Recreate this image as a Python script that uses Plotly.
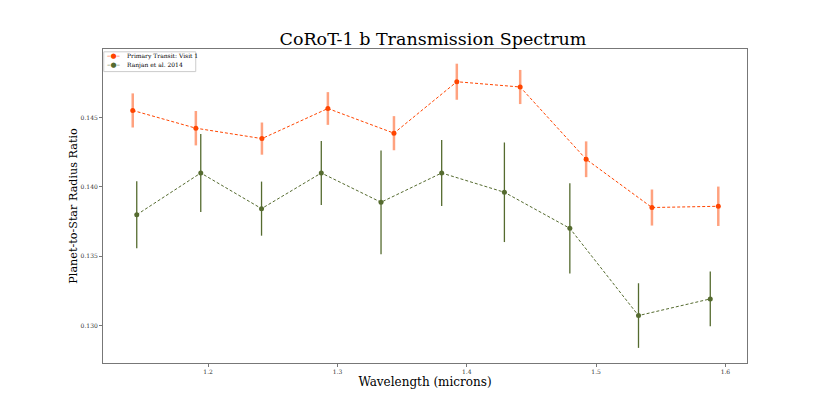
import plotly.graph_objects as go

# Primary Transit: Visit 1
wl_visit1 = [1.1417, 1.1905, 1.2416, 1.2926, 1.3437, 1.3923, 1.4413, 1.4923, 1.5432, 1.5945]
rp_visit1 = [0.14551, 0.14423, 0.14348, 0.14565, 0.14387, 0.14758, 0.14720, 0.14199, 0.13851, 0.13860]
err_visit1 = [0.00123, 0.00124, 0.00116, 0.00118, 0.00123, 0.00130, 0.00123, 0.00129, 0.00130, 0.00142]

# Ranjan et al. 2014
wl_ranjan = [1.1448, 1.1943, 1.2413, 1.2875, 1.3337, 1.3806, 1.4291, 1.4797, 1.5328, 1.5883]
rp_ranjan = [0.13799, 0.14100, 0.13843, 0.14100, 0.13889, 0.14100, 0.13961, 0.13701, 0.13072, 0.13192]
err_ranjan = [0.00241, 0.00282, 0.00195, 0.00231, 0.00374, 0.00238, 0.00359, 0.00325, 0.00233, 0.00197]

series_names = ["Primary Transit: Visit 1", "Ranjan et al. 2014"]

x_ticks = [1.2, 1.3, 1.4, 1.5, 1.6]
y_ticks = [0.130, 0.135, 0.140, 0.145]

SERIF = "DejaVu Serif"
ORANGE = "#FF4500"
OLIVE = "#556B2F"

fig = go.Figure()
fig.add_trace(go.Scatter(
    x=wl_visit1, y=rp_visit1, name=series_names[0],
    mode="lines+markers",
    line=dict(color=ORANGE, width=1, dash="3px,2px"),
    marker=dict(color=ORANGE, size=5, symbol="circle"),
    error_y=dict(type="data", array=err_visit1, visible=True,
                 color="rgba(255,69,0,0.5)", thickness=2.5, width=0),
))
fig.add_trace(go.Scatter(
    x=wl_ranjan, y=rp_ranjan, name=series_names[1],
    mode="lines+markers",
    line=dict(color=OLIVE, width=1, dash="3px,2px"),
    marker=dict(color=OLIVE, size=5, symbol="circle"),
    error_y=dict(type="data", array=err_ranjan, visible=True,
                 color=OLIVE, thickness=1.3, width=0),
))

axis_common = dict(
    showgrid=False, zeroline=False, showline=True, mirror=True,
    linecolor="#777777", linewidth=1,
    ticks="outside", ticklen=3, tickcolor="#777777", tickwidth=1,
    tickfont=dict(family=SERIF, size=6, color="#333333"),
)

# compact legend drawn as text in the upper-left corner of the plot
legend_colors = [ORANGE, OLIVE]
legend_rows_y = [0.9785, 0.9495]
annotations = []
for name, col, yy in zip(series_names, legend_colors, legend_rows_y):
    annotations.append(dict(xref="paper", yref="paper", x=0.0176, y=yy,
                            xanchor="center", yanchor="middle", showarrow=False,
                            text="–●–", font=dict(family="DejaVu Sans", size=7, color=col)))
    annotations.append(dict(xref="paper", yref="paper", x=0.0337, y=yy,
                            xanchor="left", yanchor="middle", showarrow=False,
                            text=name, font=dict(family=SERIF, size=6, color="black")))

fig.update_layout(
    width=830, height=415,
    # page body adds an 8px offset; compensate so the plot area lands where it should
    margin=dict(l=95, r=91, t=41, b=60, autoexpand=False),
    paper_bgcolor="white", plot_bgcolor="white",
    title=dict(text="CoRoT-1 b Transmission Spectrum", x=0.512, xanchor="center",
               y=0.925, yanchor="middle",
               font=dict(family=SERIF, size=17.5, color="black")),
    xaxis=dict(range=[1.1187, 1.6167], tickvals=x_ticks,
               ticktext=[f"{v:.1f}" for v in x_ticks],
               title=dict(text="Wavelength (microns)", standoff=2,
                          font=dict(family=SERIF, size=12, color="black")),
               automargin=False,
               **axis_common),
    yaxis=dict(range=[0.12730, 0.14994], tickvals=y_ticks,
               ticktext=[f"{v:.3f}" for v in y_ticks],
               title=dict(text="Planet-to-Star Radius Ratio", standoff=0,
                          font=dict(family=SERIF, size=11.2, color="black")),
               automargin=False,
               **axis_common),
    showlegend=False,
    annotations=annotations,
    shapes=[dict(type="rect", xref="paper", yref="paper",
                 x0=0.0012, x1=0.144, y0=0.928, y1=0.991,
                 line=dict(color="#cccccc", width=1), fillcolor="white", layer="below")],
)

fig.write_html("out.html")
